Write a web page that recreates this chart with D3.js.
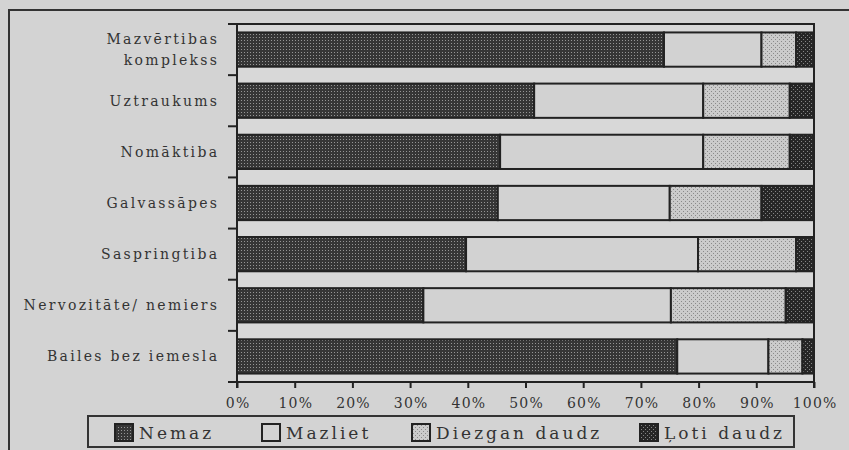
<!DOCTYPE html>
<html>
<head>
<meta charset="utf-8">
<script src="https://cdn.jsdelivr.net/npm/d3@7"></script>
<style>
  html, body { margin: 0; padding: 0; background: #d3d3d3; }
  svg { display: block; }
  text { font-family: "DejaVu Serif", "Liberation Serif", serif; fill: #333; }
</style>
</head>
<body>
<svg id="chart" width="849" height="450"></svg>
<script>
const categories = ["Mazvērtibas komplekss", "Uztraukums", "Nomāktiba", "Galvassāpes", "Saspringtiba", "Nervozitāte/ nemiers", "Bailes bez iemesla"];
const categoryLines = [["Mazvērtibas", "komplekss"], ["Uztraukums"], ["Nomāktiba"], ["Galvassāpes"], ["Saspringtiba"], ["Nervozitāte/ nemiers"], ["Bailes bez iemesla"]];
const seriesNames = ["Nemaz", "Mazliet", "Diezgan daudz", "Ļoti daudz"];
const nemaz   = [74.0, 51.5, 45.6, 45.2, 39.7, 32.3, 76.3];
const mazliet = [16.9, 29.3, 35.2, 29.8, 40.2, 42.9, 15.8];
const diezgan = [6.0, 15.0, 15.0, 15.9, 17.0, 19.9, 5.9];
const loti    = [3.1, 4.2, 4.2, 9.1, 3.1, 4.9, 2.0];
const tickValues = [0, 0.1, 0.2, 0.3, 0.4, 0.5, 0.6, 0.7, 0.8, 0.9, 1.0];
const tickLabels = ["0%", "10%", "20%", "30%", "40%", "50%", "60%", "70%", "80%", "90%", "100%"];

const seriesValues = [nemaz, mazliet, diezgan, loti];
const rows = categories.map((c, i) => {
  const o = { cat: c };
  seriesNames.forEach((s, j) => o[s] = seriesValues[j][i]);
  return o;
});
const stacked = d3.stack().keys(seriesNames).offset(d3.stackOffsetExpand)(rows);

const svg = d3.select("#chart");
const pLeft = 237, pRight = 814, pTop = 24, pBottom = 382;

// patterns
const defs = svg.append("defs");
function pat(id, size, bg, fg, dots) {
  const p = defs.append("pattern").attr("id", id).attr("patternUnits", "userSpaceOnUse")
    .attr("width", size).attr("height", size);
  p.append("rect").attr("width", size).attr("height", size).attr("fill", bg);
  dots.forEach(([x, y]) => p.append("rect").attr("x", x).attr("y", y).attr("width", 1).attr("height", 1).attr("fill", fg));
}
pat("p0", 3, "#363636", "#959595", [[1, 1]]);
pat("p2", 4, "#cbcbcb", "#8a8a8a", [[1, 1], [3, 3]]);
pat("p3", 4, "#262626", "#858585", [[1, 1], [3, 3]]);
const fills = ["url(#p0)", "#d2d2d2", "url(#p2)", "url(#p3)"];

// outer frame
svg.append("path").attr("d", "M9,450 V10 H849").attr("fill", "none").attr("stroke", "#333").attr("stroke-width", 2);

const x = d3.scaleLinear().domain([0, 1]).range([pLeft, pRight]);
const y = d3.scaleBand().domain(categories).range([pTop, pBottom]).paddingInner(0.33).paddingOuter(0.165);
const yb = d3.scaleBand().domain(categories).range([pTop, pBottom]);

// plot area background
svg.append("rect").attr("x", pLeft).attr("y", pTop).attr("width", pRight - pLeft).attr("height", pBottom - pTop)
  .attr("fill", "#d8d8d8");

// bars
svg.append("g").selectAll("g").data(stacked).join("g")
  .attr("fill", (d, i) => fills[i])
  .selectAll("rect").data(d => d).join("rect")
  .attr("x", d => x(d[0]))
  .attr("y", d => y(d.data.cat))
  .attr("width", d => x(d[1]) - x(d[0]))
  .attr("height", y.bandwidth())
  .attr("stroke", "#222").attr("stroke-width", 2);

// plot border (top, right)
svg.append("path").attr("d", `M${pLeft},${pTop} H${pRight} V${pBottom + 6}`).attr("fill", "none")
  .attr("stroke", "#222").attr("stroke-width", 2);

// x axis
const xAxis = d3.axisBottom(x).tickValues(tickValues).tickFormat((d, i) => tickLabels[i]).tickSize(6).tickPadding(10);
const gx = svg.append("g").attr("transform", `translate(0,${pBottom})`).call(xAxis);
gx.select(".domain").attr("stroke", "#222").attr("stroke-width", 2).attr("d", `M${pLeft},0 H${pRight}`);
gx.selectAll(".tick line").attr("stroke", "#222").attr("stroke-width", 2);
gx.selectAll(".tick text").attr("font-size", 14).attr("letter-spacing", 1.2)
  .attr("font-family", "DejaVu Serif, serif").attr("fill", "#333").attr("dx", 0.6);

// y axis line and ticks at band boundaries
svg.append("line").attr("x1", pLeft).attr("x2", pLeft).attr("y1", pTop).attr("y2", pBottom + 6)
  .attr("stroke", "#222").attr("stroke-width", 2);
const boundaries = categories.map(c => yb(c)).concat([pBottom]);
svg.append("g").selectAll("line").data(boundaries).join("line")
  .attr("x1", pLeft - 9).attr("x2", pLeft).attr("y1", d => d).attr("y2", d => d)
  .attr("stroke", "#222").attr("stroke-width", 2);

// y labels
const ls = 2.3;
const gl = svg.append("g");
categories.forEach((c, i) => {
  const cy = y(c) + y.bandwidth() / 2;
  const lines = categoryLines[i];
  const t = gl.append("text").attr("text-anchor", "end").attr("font-size", 14).attr("letter-spacing", ls);
  lines.forEach((ln, k) => {
    t.append("tspan").attr("x", 217 + ls).attr("y", cy + 5 + (k - (lines.length - 1) / 2) * 21).text(ln);
  });
});

// legend
const lg = svg.append("g");
lg.append("rect").attr("x", 88).attr("y", 416).attr("width", 706).attr("height", 31)
  .attr("fill", "none").attr("stroke", "#333").attr("stroke-width", 2);
const legendX = [115, 262, 412, 640];
seriesNames.forEach((s, i) => {
  lg.append("rect").attr("x", legendX[i]).attr("y", 424).attr("width", 18).attr("height", 17)
    .attr("fill", fills[i]).attr("stroke", "#222").attr("stroke-width", 2);
  lg.append("text").attr("x", legendX[i] + 24).attr("y", 439).attr("font-size", 17)
    .attr("letter-spacing", 3).text(s);
});
</script>
</body>
</html>
